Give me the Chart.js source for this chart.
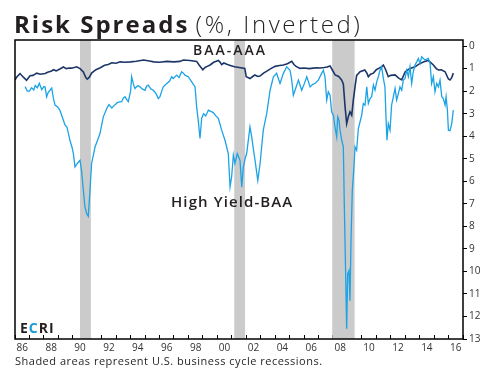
<!DOCTYPE html>
<html>
<head>
<meta charset="utf-8">
<script src="https://cdn.jsdelivr.net/npm/chart.js@4.4.0/dist/chart.umd.min.js"></script>
<style>
  html, body { margin: 0; padding: 0; background: #fff; }
  #wrap { position: relative; width: 495px; height: 375px; font-family: 'Open Sans', sans-serif; color: #231f20; }
  #chart { position: absolute; left: 0; top: 0; }
  .txt { position: absolute; white-space: nowrap; line-height: 1; }
  #title { left: 14px; top: 12px; font-size: 24px; }
  #title b { font-weight: 700; letter-spacing: 2px; }
  #title span { font-weight: 300; letter-spacing: 2.6px; }
  #lblBaa { left: 193px; top: 43px; font-size: 14px; font-weight: 600; letter-spacing: 2px; }
  #lblHy { left: 171px; top: 194px; font-size: 15px; font-weight: 600; letter-spacing: 1.1px; }
  #ecri { left: 20px; top: 321px; font-size: 14px; font-weight: 700; letter-spacing: 1px; }
  #ecri .c { color: #1a9ad6; }
  #note { left: 15px; top: 355px; font-size: 11px; letter-spacing: 0.5px; }
</style>
</head>
<body>
<div id="wrap">
  <canvas id="chart" width="495" height="375"></canvas>
  <div class="txt" id="title"><b>Risk Spreads</b> <span>(%, Inverted)</span></div>
  <div class="txt" id="lblBaa">BAA-AAA</div>
  <div class="txt" id="lblHy">High Yield-BAA</div>
  <div class="txt" id="ecri">E<span class="c">C</span>RI</div>
  <div class="txt" id="note">Shaded areas represent U.S. business cycle recessions.</div>
</div>
<script>
// BAA-AAA spread (dark line)
const baaDates = [1986.0, 1986.15, 1986.35, 1986.58, 1986.8, 1987.04, 1987.25, 1987.5, 1987.75, 1988.08,
  1988.3, 1988.5, 1988.65, 1988.85, 1989.1, 1989.35, 1989.55, 1989.75, 1989.9, 1990.1,
  1990.27, 1990.5, 1990.73, 1990.9, 1991.0, 1991.15, 1991.3, 1991.6, 1991.9, 1992.2,
  1992.45, 1992.7, 1993.0, 1993.27, 1993.6, 1994.0, 1994.4, 1994.9, 1995.3, 1995.6,
  1996.0, 1996.5, 1997.0, 1997.4, 1997.65, 1998.1, 1998.57, 1998.75, 1999.0, 1999.15,
  1999.3, 1999.5, 1999.75, 2000.07, 2000.2, 2000.3, 2000.45, 2000.7, 2001.0, 2001.2,
  2001.5, 2001.9, 2002.0, 2002.26, 2002.45, 2002.6, 2002.8, 2002.95, 2003.2, 2003.4,
  2003.7, 2004.0, 2004.3, 2004.57, 2004.85, 2005.15, 2005.3, 2005.45, 2005.72, 2006.0,
  2006.35, 2006.64, 2006.9, 2007.1, 2007.4, 2007.6, 2007.8, 2007.95, 2008.15, 2008.4,
  2008.6, 2008.72, 2008.84, 2008.95, 2009.07, 2009.18, 2009.3, 2009.41, 2009.53, 2009.64,
  2009.88, 2010.2, 2010.35, 2010.45, 2010.6, 2010.8, 2011.0, 2011.2, 2011.37, 2011.49,
  2011.65, 2011.83, 2012.0, 2012.3, 2012.55, 2012.76, 2013.0, 2013.3, 2013.68, 2013.95,
  2014.3, 2014.6, 2014.75, 2014.95, 2015.15, 2015.3, 2015.5, 2015.76, 2015.99, 2016.1,
  2016.22, 2016.33];
const baaValues = [1.5, 1.35, 1.22, 1.38, 1.52, 1.32, 1.3, 1.2, 1.25, 1.22,
  1.15, 1.12, 1.05, 1.1, 1.02, 0.93, 1.0, 0.97, 0.98, 0.95,
  0.92, 1.0, 1.15, 1.4, 1.47, 1.38, 1.2, 1.05, 0.96, 0.85,
  0.82, 0.74, 0.76, 0.7, 0.72, 0.7, 0.67, 0.62, 0.66, 0.7,
  0.72, 0.68, 0.7, 0.68, 0.62, 0.64, 0.68, 0.85, 1.05, 0.95,
  0.9, 0.84, 0.72, 0.64, 0.72, 0.82, 0.75, 0.82, 0.88, 0.92,
  0.95, 0.99, 1.36, 1.44, 1.35, 1.28, 1.35, 1.33, 1.2, 1.12,
  1.0, 0.9, 0.86, 0.84, 0.78, 0.68, 0.82, 0.9, 0.99, 0.97,
  1.0, 0.98, 0.96, 0.97, 0.95, 0.93, 0.88, 1.05, 1.28, 1.35,
  1.5, 1.68, 2.7, 3.44, 3.12, 2.92, 3.07, 2.4, 1.8, 1.3,
  1.14, 1.06, 1.2, 1.36, 1.25, 1.2, 1.05, 0.98, 0.92, 0.84,
  1.05, 1.36, 1.3, 1.28, 1.42, 1.5, 1.14, 1.0, 0.92, 0.8,
  0.7, 0.64, 0.72, 0.84, 1.0, 1.06, 1.05, 1.14, 1.46, 1.5,
  1.4, 1.2];

// High Yield-BAA spread (light line)
const hyDates = [1986.7, 1986.85, 1987.0, 1987.15, 1987.3, 1987.4, 1987.55, 1987.68, 1987.85, 1988.0,
  1988.08, 1988.19, 1988.3, 1988.42, 1988.54, 1988.65, 1988.77, 1988.95, 1989.11, 1989.3,
  1989.46, 1989.6, 1989.8, 1989.95, 1990.04, 1990.15, 1990.31, 1990.5, 1990.6, 1990.73,
  1990.84, 1990.96, 1991.07, 1991.19, 1991.3, 1991.42, 1991.54, 1991.7, 1991.88, 1992.0,
  1992.11, 1992.35, 1992.5, 1992.7, 1992.92, 1993.1, 1993.38, 1993.5, 1993.61, 1993.84,
  1994.0, 1994.07, 1994.2, 1994.3, 1994.5, 1994.65, 1994.8, 1995.0, 1995.1, 1995.22,
  1995.4, 1995.57, 1995.75, 1995.92, 1996.03, 1996.15, 1996.26, 1996.5, 1996.7, 1996.84,
  1996.95, 1997.19, 1997.35, 1997.53, 1997.65, 1997.76, 1997.99, 1998.23, 1998.46, 1998.57,
  1998.68, 1998.8, 1998.92, 1999.05, 1999.2, 1999.38, 1999.55, 1999.72, 1999.9, 2000.07,
  2000.3, 2000.53, 2000.76, 2000.88, 2000.99, 2001.11, 2001.22, 2001.38, 2001.57, 2001.69,
  2001.8, 2001.92, 2002.03, 2002.26, 2002.38, 2002.5, 2002.61, 2002.8, 2002.96, 2003.18,
  2003.42, 2003.65, 2003.88, 2004.1, 2004.34, 2004.57, 2004.8, 2005.03, 2005.15, 2005.26,
  2005.38, 2005.61, 2005.84, 2006.0, 2006.19, 2006.42, 2006.6, 2006.76, 2006.99, 2007.22,
  2007.34, 2007.45, 2007.57, 2007.68, 2007.8, 2007.91, 2008.03, 2008.14, 2008.26, 2008.33,
  2008.42, 2008.49, 2008.61, 2008.72, 2008.79, 2008.88, 2008.95, 2009.02, 2009.11, 2009.18,
  2009.25, 2009.34, 2009.44, 2009.53, 2009.64, 2009.76, 2009.99, 2010.1, 2010.22, 2010.34,
  2010.45, 2010.57, 2010.68, 2010.8, 2010.91, 2011.03, 2011.14, 2011.26, 2011.37, 2011.49,
  2011.6, 2011.67, 2011.74, 2011.83, 2011.95, 2012.06, 2012.18, 2012.3, 2012.41, 2012.53,
  2012.64, 2012.76, 2012.87, 2012.99, 2013.1, 2013.22, 2013.33, 2013.45, 2013.56, 2013.68,
  2013.8, 2013.91, 2014.03, 2014.14, 2014.37, 2014.6, 2014.72, 2014.83, 2014.95, 2015.06,
  2015.18, 2015.3, 2015.41, 2015.53, 2015.64, 2015.76, 2015.83, 2015.92, 2015.99, 2016.1,
  2016.22, 2016.33];
const hyValues = [1.8, 2.0, 2.0, 1.85, 1.95, 1.75, 1.85, 1.65, 1.93, 1.8,
  1.82, 2.25, 2.05, 1.96, 1.86, 2.3, 2.62, 2.7, 2.85, 3.2,
  3.5, 3.6, 4.18, 4.5, 4.77, 5.36, 5.21, 5.07, 5.5, 6.4,
  7.14, 7.44, 7.55, 6.4, 5.21, 4.85, 4.47, 4.2, 3.88, 3.5,
  3.14, 2.77, 2.6, 2.75, 2.6, 2.5, 2.47, 2.3, 2.25, 2.47,
  2.0, 1.36, 1.7, 1.88, 1.75, 1.81, 1.9, 1.96, 1.78, 1.73,
  1.9, 1.96, 2.1, 2.33, 2.25, 2.0, 1.81, 1.66, 1.55, 1.36,
  1.44, 1.29, 1.4, 1.14, 1.2, 1.29, 1.36, 1.59, 1.81, 2.7,
  3.3, 4.1, 3.2, 3.0, 3.1, 2.84, 2.9, 2.95, 3.1, 3.21,
  3.73, 4.18, 4.77, 6.25, 5.81, 4.84, 5.21, 4.77, 5.07, 6.25,
  5.36, 5.0, 4.77, 3.59, 4.03, 4.6, 5.07, 5.96, 5.21, 3.73,
  2.99, 1.96, 1.36, 1.21, 1.66, 1.21, 0.92, 1.07, 1.51, 2.18,
  1.96, 1.51, 1.96, 1.7, 1.36, 1.81, 1.7, 1.66, 1.51, 1.21,
  1.07, 1.36, 2.4, 2.03, 2.18, 2.92, 3.07, 3.59, 4.03, 3.14,
  3.29, 3.73, 4.18, 4.47, 7.14, 10.1, 12.55, 10.1, 9.96, 11.3,
  8.62, 6.4, 5.51, 4.47, 4.62, 3.66, 3.07, 2.55, 2.62, 1.81,
  2.55, 2.33, 2.25, 1.73, 1.96, 1.59, 1.36, 1.07, 0.92, 1.44,
  1.81, 3.14, 4.18, 3.44, 3.73, 2.62, 2.25, 1.88, 2.4, 2.1,
  1.81, 1.96, 1.51, 1.44, 1.07, 1.36, 0.92, 1.66, 1.14, 0.84,
  0.7, 0.55, 0.77, 0.47, 0.62, 0.55, 0.77, 1.66, 1.36, 2.03,
  1.66, 1.81, 1.51, 2.25, 2.33, 2.62, 2.25, 2.84, 3.73, 3.75,
  3.44, 2.84];

// recession start/end (decimal years)
const recessionStarts = [1990.5, 2001.17, 2007.95];
const recessionEnds = [1991.25, 2001.92, 2009.5];

const xTickLabels = ['86', '88', '90', '92', '94', '96', '98', '00', '02', '04', '06', '08', '10', '12', '14', '16'];
const yTickValues = [0, 1, 2, 3, 4, 5, 6, 7, 8, 9, 10, 11, 12, 13];

const isWhole = v => Math.abs(v - Math.round(v)) < 1e-6;

const decor = {
    id: 'decor',
    beforeDatasetsDraw(chart) {
        const { ctx, chartArea, scales } = chart;
        ctx.save();
        ctx.fillStyle = '#cbcbcb';
        recessionStarts.forEach((s, i) => {
            const x1 = scales.x.getPixelForValue(s);
            const x2 = scales.x.getPixelForValue(recessionEnds[i]);
            ctx.fillRect(x1, chartArea.top, x2 - x1, chartArea.bottom - chartArea.top);
        });
        ctx.restore();
    },
    afterDatasetsDraw(chart) {
        const { ctx, chartArea } = chart;
        ctx.save();
        ctx.strokeStyle = '#000';
        ctx.lineWidth = 1.5;
        ctx.strokeRect(chartArea.left, chartArea.top, chartArea.right - chartArea.left, chartArea.bottom - chartArea.top);
        ctx.restore();
    }
};

new Chart(document.getElementById('chart'), {
    type: 'line',
    data: {
        datasets: [
            {
                label: 'High Yield-BAA',
                data: hyDates.map((d, i) => ({ x: d, y: hyValues[i] })),
                borderColor: '#1ba3e6',
                borderWidth: 1.3,
                pointRadius: 0,
                tension: 0
            },
            {
                label: 'BAA-AAA',
                data: baaDates.map((d, i) => ({ x: d, y: baaValues[i] })),
                borderColor: '#1c3668',
                borderWidth: 1.6,
                pointRadius: 0,
                tension: 0
            }
        ]
    },
    options: {
        responsive: false,
        animation: false,
        devicePixelRatio: 1,
        layout: { padding: { left: 15, top: 40, right: 0, bottom: 0 } },
        plugins: {
            legend: { display: false },
            tooltip: { enabled: false }
        },
        scales: {
            x: {
                type: 'linear',
                min: 1986,
                max: 2017,
                afterFit(scale) { scale.height = 36; },
                border: { display: false },
                grid: {
                    drawOnChartArea: false,
                    tickLength: -4,
                    tickColor: ctx => isWhole(ctx.tick.value) ? '#000' : 'rgba(0,0,0,0)'
                },
                ticks: {
                    stepSize: 0.5,
                    autoSkip: false,
                    maxRotation: 0,
                    padding: 7,
                    color: '#333',
                    font: { family: 'Open Sans', size: 10 },
                    callback(v) {
                        const k = (v - 1986.5) / 2;
                        return isWhole(k) && k >= 0 && k < xTickLabels.length ? xTickLabels[Math.round(k)] : '';
                    }
                }
            },
            y: {
                position: 'right',
                reverse: true,
                min: -0.27,
                max: 13,
                afterFit(scale) { scale.width = 32; },
                afterBuildTicks(scale) { scale.ticks = yTickValues.map(v => ({ value: v })); },
                border: { display: false },
                grid: { drawOnChartArea: false, tickLength: 4, tickColor: '#000' },
                ticks: {
                    padding: 2,
                    color: '#333',
                    font: { family: 'Open Sans', size: 10 }
                }
            }
        }
    },
    plugins: [decor]
});
</script>
</body>
</html>
